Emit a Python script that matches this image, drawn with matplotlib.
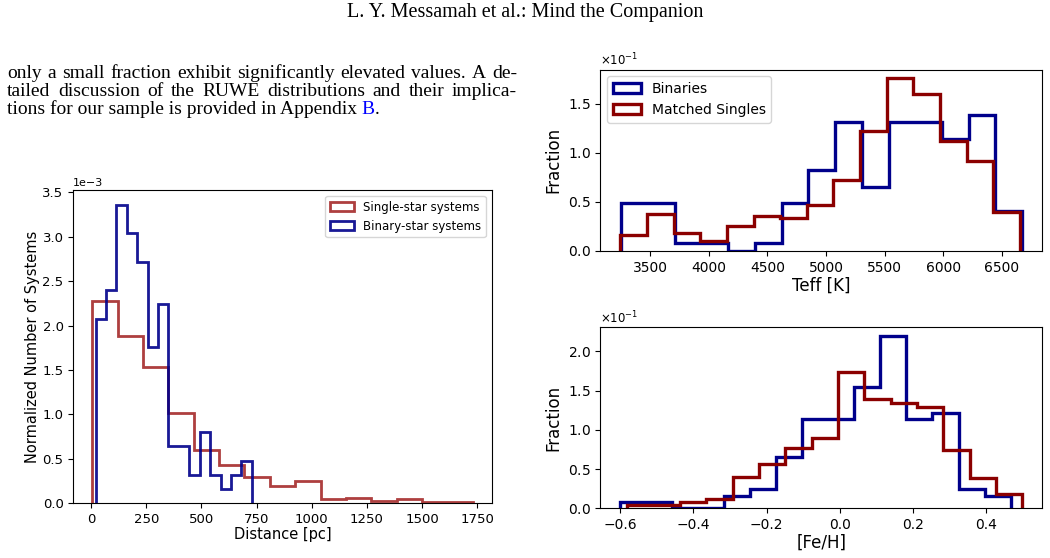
import numpy as np
import matplotlib
matplotlib.use('Agg')
import matplotlib.pyplot as plt

# distance histogram (density, x1e-3)
dist_single_edges = np.linspace(5, 1730, 16)
dist_single = [2.28, 1.88, 1.54, 1.02, 0.60, 0.43, 0.30, 0.20, 0.25, 0.05,
               0.065, 0.026, 0.05, 0.015, 0.015]
dist_binary_edges = np.linspace(20, 728, 16)
dist_binary = [2.08, 2.40, 3.36, 3.04, 2.72, 1.76, 2.24, 0.64, 0.64, 0.32,
               0.80, 0.32, 0.16, 0.32, 0.48]

# Teff fractions (x1e-1)
teff_bin_edges = np.linspace(3254, 6672, 16)
teff_bin = [0.49, 0.49, 0.08, 0.08, 0.0, 0.08, 0.49, 0.82, 1.31, 0.65,
            1.31, 1.31, 1.14, 1.38, 0.41]
teff_single_edges = np.linspace(3248, 6652, 16)
teff_single = [0.16, 0.38, 0.18, 0.10, 0.25, 0.36, 0.34, 0.47, 0.72, 1.22,
               1.76, 1.60, 1.12, 0.92, 0.40]

# [Fe/H] fractions (x1e-1)
feh_bin_edges = np.linspace(-0.600, 0.468, 16)
feh_bin = [0.08, 0.08, 0.0, 0.0, 0.16, 0.25, 0.65, 1.14, 1.14, 1.55,
           2.20, 1.14, 1.22, 0.25, 0.16]
feh_single_edges = np.linspace(-0.581, 0.500, 16)
feh_single = [0.04, 0.04, 0.08, 0.12, 0.40, 0.56, 0.77, 0.90, 1.74, 1.39,
              1.34, 1.29, 0.74, 0.38, 0.18]

line1 = "only a small fraction exhibit significantly elevated values. A de-"
line2 = "tailed discussion of the RUWE distributions and their implica-"
line3 = "tions for our sample is provided in Appendix "

W, H = 1050, 558
fig = plt.figure(figsize=(W / 100, H / 100), dpi=100)


def ax_rect(x0, y0, x1, y1):
    # pixel box -> figure fraction
    return [x0 / W, 1 - y1 / H, (x1 - x0) / W, (y1 - y0) / H]


def step_hist(ax, edges, vals, scale, **kw):
    edges = np.asarray(edges)
    ax.hist(edges[:-1], bins=edges, weights=np.asarray(vals) * scale,
            histtype='step', **kw)


# page text
serif = 'Liberation Serif'
body = 14
fig.text(525 / W, 1 - 13 / H, "L. Y. Messamah et al.: Mind the Companion",
         family=serif, fontsize=14.5, ha='center', va='center')

renderer = fig.canvas.get_renderer()


def justified(text, x0, x1, y, size):
    words = text.split()
    objs = [fig.text(0, 1 - y / H, w, family=serif, fontsize=size, va='center')
            for w in words]
    widths = [t.get_window_extent(renderer).width for t in objs]
    gap = (x1 - x0 - sum(widths)) / (len(words) - 1)
    x = x0
    for t, w in zip(objs, widths):
        t.set_x(x / W)
        x += w + gap


justified(line1, 7, 517, 73, body)
justified(line2, 7, 517, 91, body)
t3 = fig.text(7 / W, 1 - 109 / H, line3, family=serif, fontsize=body, va='center')
xb = 7 + t3.get_window_extent(renderer).width
tb = fig.text(xb / W, 1 - 109 / H, "B", family=serif, fontsize=body,
              va='center', color='blue')
xb += tb.get_window_extent(renderer).width
fig.text(xb / W, 1 - 109 / H, ".", family=serif, fontsize=body, va='center')

# left: distance
ax1 = fig.add_axes(ax_rect(73.3, 190, 491.7, 503.3))
step_hist(ax1, dist_single_edges, dist_single, 1e-3, color='brown', lw=2,
          alpha=0.9, label='Single-star systems')
step_hist(ax1, dist_binary_edges, dist_binary, 1e-3, color='darkblue', lw=2,
          alpha=0.9, label='Binary-star systems')
ax1.set_xlabel('Distance [pc]', fontsize=10.5, labelpad=0.5)
ax1.set_ylabel('Normalized Number of Systems', fontsize=10.5, labelpad=2)
ax1.ticklabel_format(axis='y', style='sci', scilimits=(0, 0))
ax1.tick_params(labelsize=9.5)
ax1.yaxis.get_offset_text().set_fontsize(8)
ax1.legend(loc='upper right', fontsize=8.5)

# right top: Teff
ax2 = fig.add_axes(ax_rect(600.3, 69.5, 1042.3, 251))
step_hist(ax2, teff_bin_edges, teff_bin, 0.1, color='darkblue', lw=2.4,
          label='Binaries')
step_hist(ax2, teff_single_edges, teff_single, 0.1, color='darkred', lw=2.4,
          label='Matched Singles')
ax2.set_xlabel('Teff [K]', fontsize=12, labelpad=1.5)
ax2.set_ylabel('Fraction', fontsize=12)
ax2.ticklabel_format(axis='y', style='sci', scilimits=(0, 0), useMathText=True)
ax2.tick_params(labelsize=10)
ax2.yaxis.get_offset_text().set_fontsize(8.5)
ax2.legend(loc='upper left', fontsize=10)

# right bottom: [Fe/H]
ax3 = fig.add_axes(ax_rect(600.3, 327, 1042.3, 508.3))
step_hist(ax3, feh_bin_edges, feh_bin, 0.1, color='darkblue', lw=2.4)
step_hist(ax3, feh_single_edges, feh_single, 0.1, color='darkred', lw=2.4)
ax3.set_xlabel('[Fe/H]', fontsize=12, labelpad=1)
ax3.set_ylabel('Fraction', fontsize=12)
ax3.ticklabel_format(axis='y', style='sci', scilimits=(0, 0), useMathText=True)
ax3.tick_params(labelsize=10)
ax3.yaxis.get_offset_text().set_fontsize(8.5)

fig.savefig('out.png', dpi=100)
